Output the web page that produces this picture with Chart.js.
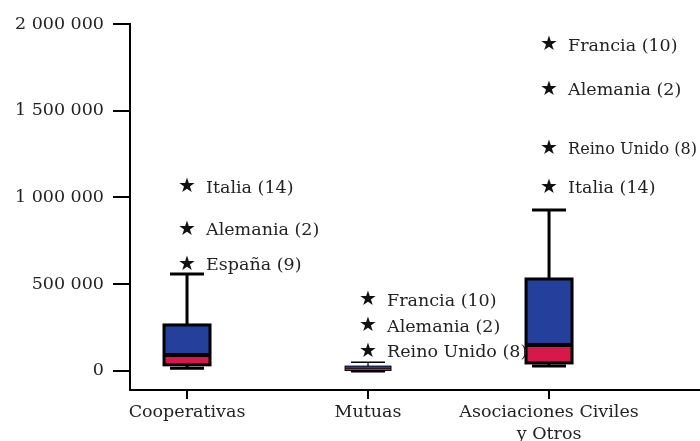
<!DOCTYPE html>
<html>
<head>
<meta charset="utf-8">
<script src="https://cdn.jsdelivr.net/npm/chart.js@4/dist/chart.umd.min.js"></script>
<style>
  html, body { margin: 0; padding: 0; background: #fff; }
  #wrap { width: 700px; height: 441px; }
</style>
</head>
<body>
<div id="wrap"><canvas id="grafico"></canvas></div>
<script>
// Datos
const categorias = ["Cooperativas", "Mutuas", ["Asociaciones Civiles", "y Otros"]];
const bigoteInf = [15000, 0, 29000];
const q1 = [35000, 2000, 46000];
const mediana = [92000, 14000, 150000];
const q3 = [265000, 28000, 530000];
const bigoteSup = [559000, 50000, 928000];

const atipCategoria = [0, 0, 0, 1, 1, 1, 2, 2, 2, 2];
const atipValor = [1060000, 813000, 611000, 409000, 259000, 110000, 1879000, 1620000, 1280000, 1055000];
const atipEtiqueta = ["Italia (14)", "Alemania (2)", "España (9)", "Francia (10)", "Alemania (2)", "Reino Unido (8)",
    "Francia (10)", "Alemania (2)", "Reino Unido (8)", "Italia (14)"];

const ticksY = [0, 500000, 1000000, 1500000, 2000000];

const AZUL = '#243f9c';
const ROJO = '#d6194a';
const FUENTE = '"DejaVu Serif", serif';

// Formato de número con espacios
function formato(n) {
    return String(Math.round(n)).replace(/\B(?=(\d{3})+(?!\d))/g, ' ');
}

const cajas = {
    id: 'cajas',
    afterDatasetsDraw(chart) {
        const { ctx, scales: { x, y } } = chart;
        ctx.save();
        ctx.strokeStyle = '#000';
        ctx.lineCap = 'butt';
        categorias.forEach((c, i) => {
            const cx = x.getPixelForValue(i);
            const mitad = 23, tapa = 17;
            const yBi = y.getPixelForValue(bigoteInf[i]);
            const yQ1 = y.getPixelForValue(q1[i]);
            const yMe = y.getPixelForValue(mediana[i]);
            const yQ3 = y.getPixelForValue(q3[i]);
            const yBs = y.getPixelForValue(bigoteSup[i]);
            const alto = yQ1 - yQ3;
            const borde = Math.min(3, alto / 5);

            // bigotes
            ctx.lineWidth = Math.min(3, Math.max(1.2, (yQ3 - yBs) / 3));
            ctx.beginPath();
            ctx.moveTo(cx, yQ3); ctx.lineTo(cx, yBs);
            ctx.moveTo(cx - tapa, yBs); ctx.lineTo(cx + tapa, yBs);
            ctx.stroke();
            ctx.lineWidth = 3;
            ctx.beginPath();
            ctx.moveTo(cx, yQ1); ctx.lineTo(cx, yBi);
            ctx.moveTo(cx - tapa, yBi); ctx.lineTo(cx + tapa, yBi);
            ctx.stroke();

            // caja
            ctx.fillStyle = AZUL;
            ctx.fillRect(cx - mitad, yQ3, mitad * 2, yMe - yQ3);
            ctx.fillStyle = ROJO;
            ctx.fillRect(cx - mitad, yMe, mitad * 2, yQ1 - yMe);
            ctx.lineWidth = borde;
            ctx.strokeRect(cx - mitad, yQ3, mitad * 2, alto);

            // mediana
            ctx.lineWidth = Math.min(4, alto / 6);
            ctx.beginPath();
            ctx.moveTo(cx - mitad, yMe); ctx.lineTo(cx + mitad, yMe);
            ctx.stroke();
        });

        // atípicos
        const meta = chart.getDatasetMeta(0);
        ctx.textBaseline = 'middle';
        meta.data.forEach((p, k) => {
            ctx.fillStyle = '#111';
            ctx.textAlign = 'center';
            ctx.font = '20px "DejaVu Sans"';
            ctx.fillText('★', p.x, p.y);
            ctx.textAlign = 'left';
            ctx.font = '17.5px ' + FUENTE;
            ctx.fillStyle = '#222';
            const xt = p.x + 19;
            ctx.fillText(atipEtiqueta[k], xt, p.y + 1, chart.width - xt - 3);
        });
        ctx.restore();
    }
};

const ctx = document.getElementById('grafico').getContext('2d');
new Chart(ctx, {
    type: 'scatter',
    data: {
        datasets: [{
            label: 'Atípicos',
            data: atipCategoria.map((c, k) => ({ x: c, y: atipValor[k] })),
            pointRadius: 0,
            pointHoverRadius: 0
        }]
    },
    options: {
        responsive: true,
        maintainAspectRatio: false,
        animation: false,
        layout: {
            padding: { top: 24, right: 0, left: 0, bottom: 0 }
        },
        scales: {
            x: {
                type: 'linear',
                min: -0.315,
                max: 2.834,
                afterFit: function (s) { s.height = 51; },
                afterBuildTicks: function (s) {
                    s.ticks = categorias.map((c, i) => ({ value: i }));
                },
                grid: {
                    drawOnChartArea: false,
                    drawTicks: true,
                    tickLength: 9,
                    color: '#000',
                    lineWidth: 2
                },
                border: { display: true, color: '#000', width: 2 },
                ticks: {
                    autoSkip: false,
                    maxRotation: 0,
                    padding: 3,
                    color: '#222',
                    font: { family: FUENTE, size: 17.5, lineHeight: 1.25 },
                    callback: function (v, i) { return categorias[i]; }
                }
            },
            y: {
                min: -110000,
                max: 2000000,
                afterFit: function (s) { s.width = 130; },
                afterBuildTicks: function (s) {
                    s.ticks = ticksY.map(v => ({ value: v }));
                },
                grid: {
                    drawOnChartArea: false,
                    drawTicks: true,
                    tickLength: 17,
                    color: '#000',
                    lineWidth: 2
                },
                border: { display: true, color: '#000', width: 2 },
                ticks: {
                    padding: 9,
                    color: '#222',
                    font: { family: FUENTE, size: 17.5 },
                    callback: function (value) { return formato(value); }
                }
            }
        },
        plugins: {
            legend: { display: false },
            tooltip: { enabled: false }
        }
    },
    plugins: [cajas]
});
</script>
</body>
</html>
